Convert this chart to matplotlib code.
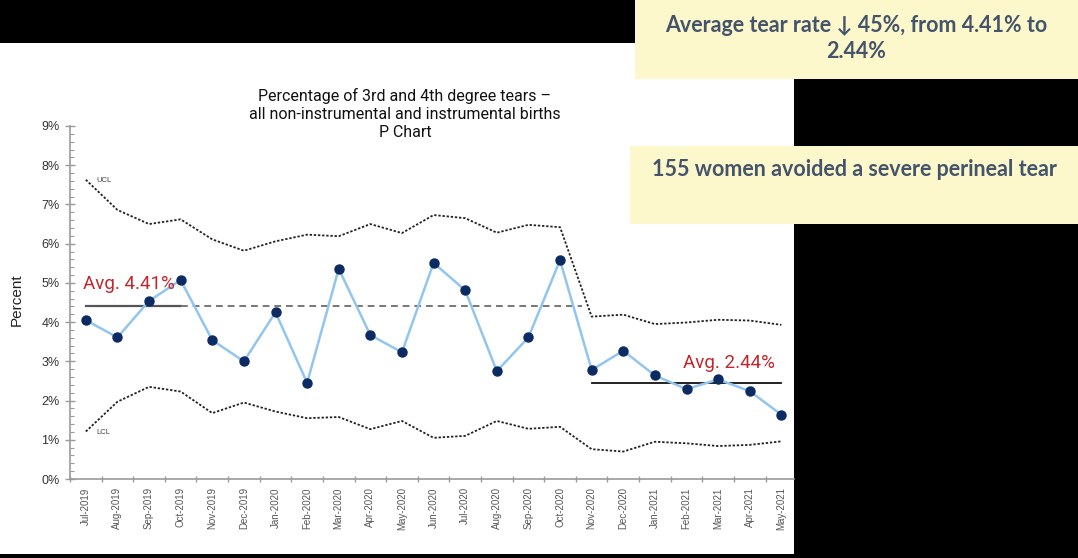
import matplotlib
matplotlib.use("Agg")
import matplotlib.pyplot as plt
from matplotlib.patches import Rectangle
from matplotlib.ticker import FixedLocator, MultipleLocator

months = ["Jul-2019", "Aug-2019", "Sep-2019", "Oct-2019", "Nov-2019", "Dec-2019",
          "Jan-2020", "Feb-2020", "Mar-2020", "Apr-2020", "May-2020", "Jun-2020",
          "Jul-2020", "Aug-2020", "Sep-2020", "Oct-2020", "Nov-2020", "Dec-2020",
          "Jan-2021", "Feb-2021", "Mar-2021", "Apr-2021", "May-2021"]
pct = [4.05, 3.61, 4.54, 5.07, 3.54, 3.00, 4.25, 2.45, 5.36, 3.67, 3.23, 5.51,
       4.81, 2.75, 3.61, 5.58, 2.78, 3.27, 2.64, 2.29, 2.54, 2.24, 1.64]
ucl = [7.63, 6.86, 6.50, 6.62, 6.11, 5.82, 6.06, 6.23, 6.19, 6.50, 6.27, 6.73,
       6.65, 6.28, 6.48, 6.42, 4.14, 4.19, 3.95, 3.99, 4.06, 4.04, 3.93]
lcl = [1.21, 1.97, 2.35, 2.23, 1.68, 1.95, 1.72, 1.55, 1.58, 1.27, 1.48, 1.05,
       1.10, 1.48, 1.28, 1.33, 0.76, 0.70, 0.95, 0.91, 0.84, 0.87, 0.96]
avg1 = 4.41
avg2 = 2.44
title = "Percentage of 3rd and 4th degree tears \u2013\nall non-instrumental and instrumental births\nP Chart"
box1_text = "Average tear rate \u2193 45%, from 4.41% to\n2.44%"
box2_text = "155 women avoided a severe perineal tear"

W, H = 1078, 558
fig = plt.figure(figsize=(W / 100, H / 100), dpi=100)
fig.patch.set_facecolor("black")

def fx(px):
    return px / W

def fy(py):
    return 1 - py / H

# white chart panel
fig.patches.append(Rectangle((0, fy(554)), fx(794), fy(43) - fy(554),
                             transform=fig.transFigure, facecolor="white",
                             edgecolor="none", zorder=-2))
# yellow boxes
fig.patches.append(Rectangle((fx(635), fy(79)), 1 - fx(635), fy(0) - fy(79),
                             transform=fig.transFigure, facecolor="#fdf8cc",
                             edgecolor="none", zorder=-1))
fig.patches.append(Rectangle((fx(630), fy(224)), 1 - fx(630), fy(146) - fy(224),
                             transform=fig.transFigure, facecolor="#fdf8cc",
                             edgecolor="none", zorder=-1))

ax = fig.add_axes([fx(70), fy(479), fx(794) - fx(70), fy(126) - fy(479)])
ax.set_zorder(1)
ax.set_facecolor("none")
x = list(range(len(months)))

ax.plot(x, ucl, color="#222222", lw=1.3, ls=(0, (1.3, 1.0)), zorder=2)
ax.plot(x, lcl, color="#222222", lw=1.3, ls=(0, (1.3, 1.0)), zorder=2)

ax.plot([0, 3], [avg1, avg1], color="#555555", lw=1.6, zorder=2)
ax.plot([3, 15.7], [avg1, avg1], color="#777777", lw=1.4, ls=(0, (3.5, 2.5)), zorder=2)
ax.plot([16, 22], [avg2, avg2], color="#111111", lw=1.3, zorder=2)

ax.plot(x, pct, color="#92c5f0", lw=1.8, zorder=3)
ax.plot(x, pct, ls="none", marker="o", ms=6.5, color="#0c2b62", zorder=4)

ax.text(-0.08, 4.98, "Avg. 4.41%", color="#c1272d", fontsize=13.5,
        family="Roboto", ha="left", va="center")
ax.text(18.9, 2.95, "Avg. 2.44%", color="#c1272d", fontsize=13.5,
        family="Roboto", ha="left", va="center")
ax.text(0.35, 7.62, "UCL", color="#444444", fontsize=5.5, family="Liberation Sans",
        ha="left", va="center")
ax.text(0.35, 1.18, "LCL", color="#444444", fontsize=5.5, family="Liberation Sans",
        ha="left", va="center")

ax.set_xlim(-0.5, 22.4)
ax.set_ylim(0, 9)
for s in ["top", "right"]:
    ax.spines[s].set_visible(False)
for s in ["left", "bottom"]:
    ax.spines[s].set_color("#9a9a9a")
    ax.spines[s].set_linewidth(1.2)

ax.set_yticks(range(10))
ax.set_yticklabels([f"{i}%" for i in range(10)], family="Liberation Sans",
                   fontsize=9, color="#333333")
ax.yaxis.set_minor_locator(MultipleLocator(0.2))
ax.tick_params(axis="y", which="major", direction="inout", length=7, width=1,
               color="#9a9a9a", pad=4)
ax.tick_params(axis="y", which="minor", direction="in", length=3, width=0.8,
               color="#9a9a9a")

ax.set_xticks(x)
ax.set_xticklabels(months, rotation=90, family="Liberation Sans", fontsize=7,
                   color="#555555")
ax.xaxis.set_minor_locator(FixedLocator([i - 0.5 for i in range(len(months))]))
ax.tick_params(axis="x", which="major", length=0, pad=6)
ax.tick_params(axis="x", which="minor", direction="inout", length=5, width=1,
               color="#9a9a9a")

fig.text(fx(17), fy(300), "Percent", rotation=90, ha="center", va="center",
         family="Liberation Sans", fontsize=11, color="#222222")

fig.text(fx(405), fy(114), title, ha="center", va="center", family="Roboto",
         fontsize=11.5, color="#111111", linespacing=1.25)

fig.text(fx(856), fy(38.5), box1_text, ha="center", va="center",
         family=["Lato", "DejaVu Sans"], fontweight="bold", fontsize=15.5,
         color="#44546a", linespacing=1.35)
fig.text(fx(854), fy(169), box2_text, ha="center", va="center",
         family=["Lato", "DejaVu Sans"], fontweight="bold", fontsize=15.5,
         color="#44546a")

fig.savefig("out.png", dpi=100, facecolor=fig.get_facecolor())
